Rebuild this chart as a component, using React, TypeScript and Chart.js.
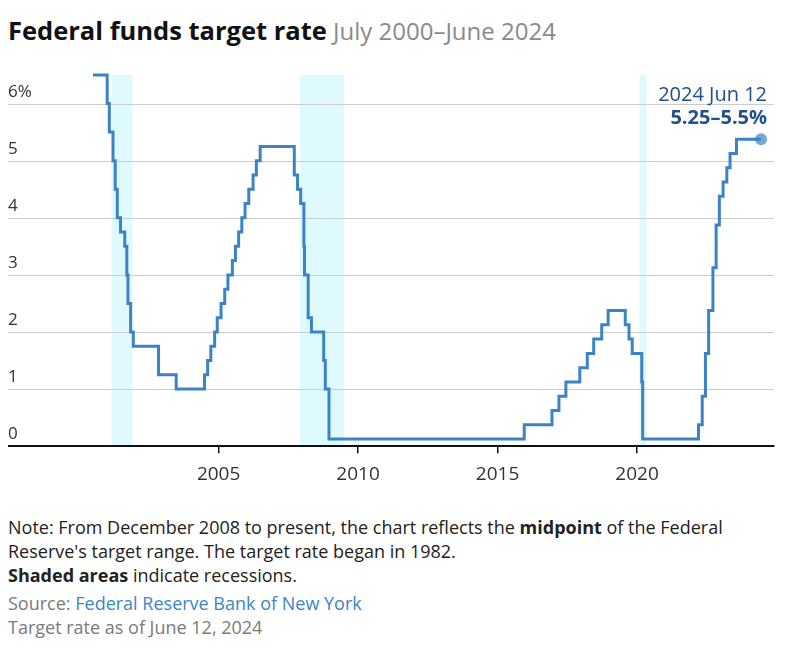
import React, { useEffect, useRef } from "react";
import { Chart, registerables } from "chart.js";

Chart.register(...registerables);

// ---- Data ----
const changeDates = [
  "2000-07-01", "2001-01-03", "2001-01-31", "2001-03-20", "2001-04-18", "2001-05-15",
  "2001-06-27", "2001-08-21", "2001-09-17", "2001-10-02", "2001-11-06", "2001-12-11",
  "2002-11-06", "2003-06-25", "2004-06-30", "2004-08-10", "2004-09-21", "2004-11-10",
  "2004-12-14", "2005-02-02", "2005-03-22", "2005-05-03", "2005-06-30", "2005-08-09",
  "2005-09-20", "2005-11-01", "2005-12-13", "2006-01-31", "2006-03-28", "2006-05-10",
  "2006-06-29", "2007-09-18", "2007-10-31", "2007-12-11", "2008-01-22", "2008-01-30",
  "2008-03-18", "2008-04-30", "2008-10-08", "2008-10-29", "2008-12-16", "2015-12-16",
  "2016-12-14", "2017-03-15", "2017-06-14", "2017-12-13", "2018-03-21", "2018-06-13",
  "2018-09-26", "2018-12-19", "2019-07-31", "2019-09-18", "2019-10-30", "2020-03-03",
  "2020-03-15", "2022-03-16", "2022-05-04", "2022-06-15", "2022-07-27", "2022-09-21",
  "2022-11-02", "2022-12-14", "2023-02-01", "2023-03-22", "2023-05-03", "2023-07-26",
  "2024-06-12",
];
const rates = [
  6.5, 6.0, 5.5, 5.0, 4.5, 4.0,
  3.75, 3.5, 3.0, 2.5, 2.0, 1.75,
  1.25, 1.0, 1.25, 1.5, 1.75, 2.0,
  2.25, 2.5, 2.75, 3.0, 3.25, 3.5,
  3.75, 4.0, 4.25, 4.5, 4.75, 5.0,
  5.25, 4.75, 4.5, 4.25, 3.5, 3.0,
  2.25, 2.0, 1.5, 1.0, 0.125, 0.375,
  0.625, 0.875, 1.125, 1.375, 1.625, 1.875,
  2.125, 2.375, 2.125, 1.875, 1.625, 1.125,
  0.125, 0.375, 0.875, 1.625, 2.375, 3.125,
  3.875, 4.375, 4.625, 4.875, 5.125, 5.375,
  5.375,
];
const yTickValues = [0, 1, 2, 3, 4, 5, 6];
const yTickLabels = ["0", "1", "2", "3", "4", "5", "6%"];
const xTickYears = [2005, 2010, 2015, 2020];
const recessionStarts = ["2001-03-01", "2007-12-01", "2020-02-01"];
const recessionEnds = ["2001-11-30", "2009-06-30", "2020-04-30"];
const annotationDate = "2024 Jun 12";
const annotationValue = "5.25–5.5%";

const X_MIN = 1997.45;
const X_MAX = 2024.91;
const Y_MIN = 0;
const Y_MAX = 6.5;

const FONT = "'Open Sans', Lato, sans-serif";

function toYear(s: string): number {
  const [y, m, d] = s.split("-").map(Number);
  const start = Date.UTC(y, 0, 1);
  const end = Date.UTC(y + 1, 0, 1);
  return y + (Date.UTC(y, m - 1, d) - start) / (end - start);
}

const recessionPlugin = {
  id: "recessions",
  beforeDraw(chart: any) {
    const { ctx, chartArea, scales } = chart;
    const xs = scales.x;
    ctx.save();
    ctx.fillStyle = "#dffaff";
    for (let i = 0; i < recessionStarts.length; i++) {
      const x1 = xs.getPixelForValue(toYear(recessionStarts[i]));
      const x2 = xs.getPixelForValue(toYear(recessionEnds[i]));
      ctx.fillRect(x1, chartArea.top, x2 - x1, chartArea.bottom - chartArea.top);
    }
    ctx.restore();
  },
};

const yGridPlugin = {
  id: "yGrid",
  beforeDatasetsDraw(chart: any) {
    const { ctx, chartArea, scales } = chart;
    const ys = scales.y;
    ctx.save();
    ctx.strokeStyle = "#cccccc";
    ctx.lineWidth = 1;
    yTickValues.forEach((v) => {
      if (v === 0) return;
      const y = Math.round(ys.getPixelForValue(v)) + 0.5;
      ctx.beginPath();
      ctx.moveTo(chartArea.left, y);
      ctx.lineTo(chartArea.right, y);
      ctx.stroke();
    });
    ctx.restore();
  },
  afterDraw(chart: any) {
    const { ctx, chartArea, scales } = chart;
    const ys = scales.y;
    ctx.save();
    ctx.font = `17px ${FONT}`;
    ctx.fillStyle = "#333";
    ctx.textAlign = "left";
    ctx.textBaseline = "alphabetic";
    yTickValues.forEach((v, i) => {
      const y = ys.getPixelForValue(v);
      ctx.fillText(yTickLabels[i], chartArea.left, y - 7);
    });
    ctx.restore();
  },
};

const annotationPlugin = {
  id: "endAnnotation",
  afterDatasetsDraw(chart: any) {
    const { ctx } = chart;
    const meta = chart.getDatasetMeta(0);
    const pt = meta.data[meta.data.length - 1];
    if (!pt) return;
    ctx.save();
    ctx.textAlign = "right";
    ctx.textBaseline = "alphabetic";
    ctx.fillStyle = "#20518c";
    ctx.font = `20px ${FONT}`;
    ctx.fillText(annotationDate, pt.x + 6, pt.y - 38);
    ctx.font = `bold 20px ${FONT}`;
    ctx.fillText(annotationValue, pt.x + 6, pt.y - 15);
    ctx.restore();
  },
};

function RateChart() {
  const ref = useRef<HTMLCanvasElement | null>(null);
  useEffect(() => {
    if (!ref.current) return;
    const points = changeDates.map((d, i) => ({ x: toYear(d), y: rates[i] }));
    const last = points.length - 1;
    const chart = new Chart(ref.current, {
      type: "line",
      data: {
        datasets: [
          {
            data: points,
            borderColor: "#3b83c5",
            borderWidth: 3,
            stepped: true,
            fill: false,
            borderJoinStyle: "miter",
            pointRadius: (c: any) => (c.dataIndex === last ? 6 : 0),
            pointHoverRadius: 0,
            pointBackgroundColor: "rgba(59,131,197,0.7)",
            pointBorderWidth: 0,
            clip: false,
          },
        ],
      },
      options: {
        animation: false,
        responsive: false,
        layout: { autoPadding: false, padding: { left: 0, right: 18, top: 20, bottom: 10 } },
        plugins: {
          legend: { display: false },
          tooltip: { enabled: false },
        },
        scales: {
          x: {
            type: "linear",
            min: X_MIN,
            max: X_MAX,
            afterBuildTicks: (s: any) => {
              s.ticks = xTickYears.map((v) => ({ value: v }));
            },
            afterFit: (s: any) => {
              s.paddingLeft = 0;
              s.paddingRight = 0;
            },
            ticks: {
              callback: (v: any) => String(v),
              font: { family: FONT, size: 19 },
              color: "#333",
              padding: 10,
              maxRotation: 0,
            },
            grid: {
              drawOnChartArea: false,
              drawTicks: true,
              tickLength: 7,
              color: "#111",
              lineWidth: 1.5,
            },
            border: { display: true, color: "#111", width: 2 },
          },
          y: {
            type: "linear",
            display: false,
            min: Y_MIN,
            max: Y_MAX,
          },
        },
      },
      plugins: [recessionPlugin, yGridPlugin, annotationPlugin],
    });
    return () => chart.destroy();
  }, []);
  return (
    <canvas
      ref={ref}
      width={784}
      height={451}
      style={{ position: "absolute", left: 0, top: 47, width: 784, height: 451 }}
    />
  );
}

export default function App() {
  return (
    <div style={{ position: "relative", width: 784, height: 633, fontFamily: FONT }}>
      <div
        style={{
          position: "absolute",
          left: 0,
          top: 9,
          fontSize: 25.5,
          lineHeight: "26px",
          whiteSpace: "nowrap",
        }}
      >
        <span style={{ fontWeight: 700, color: "#111" }}>Federal funds target rate</span>
        <span style={{ color: "#8a8a8a", fontSize: 24 }}> July 2000–June 2024</span>
      </div>
      <RateChart />
      <div
        style={{
          position: "absolute",
          left: 0,
          top: 507,
          fontSize: 18,
          lineHeight: "24px",
          color: "#222",
          whiteSpace: "nowrap",
        }}
      >
        <div>
          Note: From December 2008 to present, the chart reflects the <b>midpoint</b> of the Federal
        </div>
        <div>Reserve's target range. The target rate began in 1982.</div>
        <div>
          <b>Shaded areas</b> indicate recessions.
        </div>
        <div style={{ marginTop: 4, color: "#7a7a7a" }}>
          Source: <span style={{ color: "#3b86c6" }}>Federal Reserve Bank of New York</span>
        </div>
        <div style={{ color: "#7a7a7a" }}>Target rate as of June 12, 2024</div>
      </div>
    </div>
  );
}
